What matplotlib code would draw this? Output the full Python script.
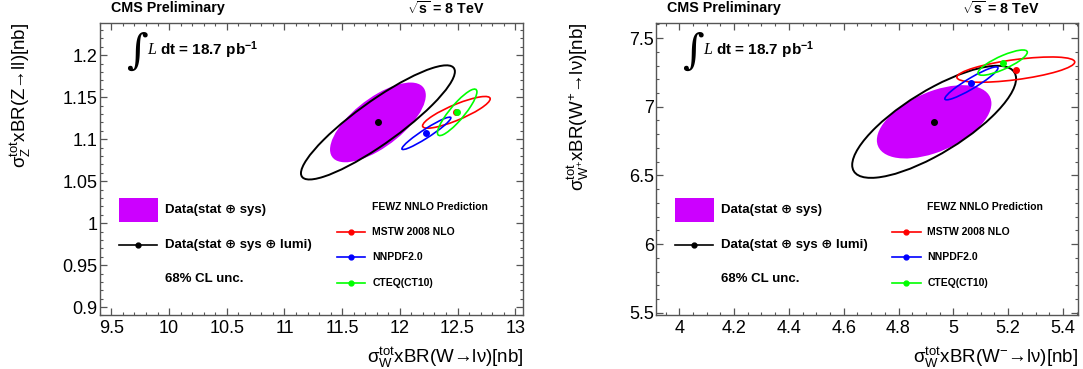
import numpy as np
import matplotlib
matplotlib.use('Agg')
import matplotlib.pyplot as plt
from matplotlib.patches import Ellipse, Rectangle
from matplotlib.transforms import Affine2D
from matplotlib.lines import Line2D
from matplotlib.ticker import MultipleLocator, FuncFormatter

plt.rcParams['font.family'] = ['Liberation Sans', 'DejaVu Sans']
plt.rcParams['mathtext.fontset'] = 'custom'
plt.rcParams['mathtext.rm'] = 'Liberation Sans'
plt.rcParams['mathtext.it'] = 'Liberation Sans:italic'
plt.rcParams['mathtext.bf'] = 'Liberation Sans:bold'
plt.rcParams['mathtext.default'] = 'regular'

# prediction names (same order in both panels)
models = ['MSTW 2008 NLO', 'NNPDF2.0', 'CTEQ(CT10)']

# left panel: W vs Z  (ellipses given as half-extent x, half-extent y, correlation)
wz_data = [11.81, 1.120]
wz_stat_sys = [0.415, 0.0475, 0.68]
wz_full = [0.667, 0.068, 0.89]
wz_pred_x = [12.49, 12.23, 12.497]
wz_pred_y = [1.132, 1.107, 1.132]
wz_pred_sx = [0.293, 0.212, 0.171]
wz_pred_sy = [0.0189, 0.0193, 0.0277]
wz_pred_rho = [0.85, 0.95, 0.88]

# right panel: W- vs W+
wpm_data = [4.93, 6.89]
wpm_stat_sys = [0.209, 0.267, 0.50]
wpm_full = [0.299, 0.408, 0.77]
wpm_pred_x = [5.228, 5.066, 5.180]
wpm_pred_y = [7.270, 7.170, 7.321]
wpm_pred_sx = [0.215, 0.097, 0.090]
wpm_pred_sy = [0.092, 0.120, 0.092]
wpm_pred_rho = [0.60, 0.93, 0.82]

pred_colors = ['#ff0000', '#0000ff', '#00ff00']
fill_color = '#cc00ff'


def draw_ellipse(ax, cx, cy, sx, sy, rho, **kw):
    # unit circle mapped through the covariance shape into data coords
    m = np.array([[sx, 0, cx],
                  [rho * sy, sy * np.sqrt(1 - rho ** 2), cy],
                  [0, 0, 1]])
    tr = Affine2D(m) + ax.transData
    ax.add_patch(Ellipse((0, 0), 2, 2, transform=tr, **kw))


def make_panel(ax, data, stat_sys, full, px, py, psx, psy, prho,
               xlim, ylim, xmaj, xmin, ymaj, ymin, xlabel, ylabel, ylab_x):
    draw_ellipse(ax, data[0], data[1], *stat_sys, facecolor=fill_color,
                 edgecolor='none', zorder=2)
    draw_ellipse(ax, data[0], data[1], *full, facecolor='none',
                 edgecolor='black', lw=1.4, zorder=3)
    for i in range(len(models)):
        draw_ellipse(ax, px[i], py[i], psx[i], psy[i], prho[i],
                     facecolor='none', edgecolor=pred_colors[i], lw=1.2, zorder=4)
    for i in range(len(models)):
        ax.plot(px[i], py[i], 'o', color=pred_colors[i], ms=4, zorder=5)
    ax.plot(data[0], data[1], 'o', color='black', ms=4, zorder=6)

    ax.set_xlim(*xlim)
    ax.set_ylim(*ylim)
    ax.xaxis.set_major_locator(MultipleLocator(xmaj))
    ax.xaxis.set_minor_locator(MultipleLocator(xmin))
    ax.yaxis.set_major_locator(MultipleLocator(ymaj))
    ax.yaxis.set_minor_locator(MultipleLocator(ymin))
    fmt = FuncFormatter(lambda v, p: f'{v:g}')
    ax.xaxis.set_major_formatter(fmt)
    ax.yaxis.set_major_formatter(fmt)
    ax.tick_params(which='both', direction='in', top=True, right=True,
                   color='#555555', labelsize=13)
    ax.tick_params(which='major', length=5, width=0.9)
    ax.tick_params(which='minor', length=2.5, width=0.8)
    ax.tick_params(axis='x', pad=3)
    ax.tick_params(axis='y', pad=1.5)
    for s in ax.spines.values():
        s.set_color('#555555')
        s.set_linewidth(1.0)

    ax.set_xlabel(xlabel, fontsize=13.5, loc='right', va='center')
    ax.xaxis.set_label_coords(1.0, -0.145)
    ax.set_ylabel(ylabel, fontsize=13.5, loc='top', va='center')
    ax.yaxis.set_label_coords(ylab_x, 1.0)

    # lumi label
    ax.text(0.062, 0.9, '\u222b', transform=ax.transAxes, fontsize=30,
            family='DejaVu Serif', va='center', ha='left')
    ax.text(0.112, 0.905, 'L', transform=ax.transAxes, fontsize=11.5,
            family='Liberation Serif', style='italic', va='center')
    ax.text(0.142, 0.905, r'dt = 18.7 pb$^{\mathbf{-1}}$', transform=ax.transAxes,
            fontsize=11, fontweight='bold', va='center')

    # data legend
    ax.add_patch(Rectangle((0.045, 0.318), 0.092, 0.082, transform=ax.transAxes,
                           facecolor=fill_color, edgecolor='none'))
    ax.text(0.155, 0.359, 'Data(stat \u2295 sys)', transform=ax.transAxes,
            fontsize=9.5, fontweight='bold', va='center')
    ax.add_line(Line2D([0.046, 0.135], [0.241, 0.241], transform=ax.transAxes,
                       color='black', lw=1.2))
    ax.add_line(Line2D([0.0905], [0.241], transform=ax.transAxes,
                       color='black', marker='o', ms=3.5, lw=0))
    ax.text(0.155, 0.241, 'Data(stat \u2295 sys \u2295 lumi)', transform=ax.transAxes,
            fontsize=9.5, fontweight='bold', va='center')
    ax.text(0.155, 0.123, '68% CL unc.', transform=ax.transAxes,
            fontsize=9.5, fontweight='bold', va='center')

    # prediction legend
    ax.text(0.643, 0.371, 'FEWZ NNLO Prediction', transform=ax.transAxes,
            fontsize=7.5, fontweight='bold', va='center')
    for i, yy in enumerate([0.286, 0.198, 0.112]):
        ax.add_line(Line2D([0.559, 0.627], [yy, yy], transform=ax.transAxes,
                           color=pred_colors[i], lw=1.2))
        ax.add_line(Line2D([0.593], [yy], transform=ax.transAxes,
                           color=pred_colors[i], marker='o', ms=3.5, lw=0))
        ax.text(0.643, yy, models[i], transform=ax.transAxes,
                fontsize=7.5, fontweight='bold', va='center')


fig = plt.figure(figsize=(10.83, 3.69), dpi=100)
ax1 = fig.add_axes([0.0922, 0.145, 0.391, 0.794])
ax2 = fig.add_axes([0.6057, 0.145, 0.3897, 0.794])

make_panel(ax1, wz_data, wz_stat_sys, wz_full, wz_pred_x, wz_pred_y,
           wz_pred_sx, wz_pred_sy, wz_pred_rho,
           (9.4, 13.07), (0.89, 1.239), 0.5, 0.1, 0.05, 0.01,
           r'$\sigma^{tot}_{W}$xBR(W→lν)[nb]',
           r'$\sigma^{tot}_{Z}$xBR(Z→ll)[nb]', -0.187)

make_panel(ax2, wpm_data, wpm_stat_sys, wpm_full, wpm_pred_x, wpm_pred_y,
           wpm_pred_sx, wpm_pred_sy, wpm_pred_rho,
           (3.915, 5.455), (5.48, 7.613), 0.2, 0.05, 0.5, 0.1,
           r'$\sigma^{tot}_{W}$xBR(W$^{-}$→lν)[nb]',
           r'$\sigma^{tot}_{W^{+}}$xBR(W$^{+}$→lν)[nb]', -0.185)

# headers
for xl, xr in [(0.1025, 0.447), (0.616, 0.960)]:
    fig.text(xl, 0.977, 'CMS Preliminary', fontsize=10.3, fontweight='bold',
             ha='left', va='center')
    fig.text(xr, 0.977, r'$\sqrt{\mathbf{s}}$ = 8 TeV', fontsize=10.3,
             fontweight='bold', ha='right', va='center')

fig.savefig('out.png', dpi=100)
